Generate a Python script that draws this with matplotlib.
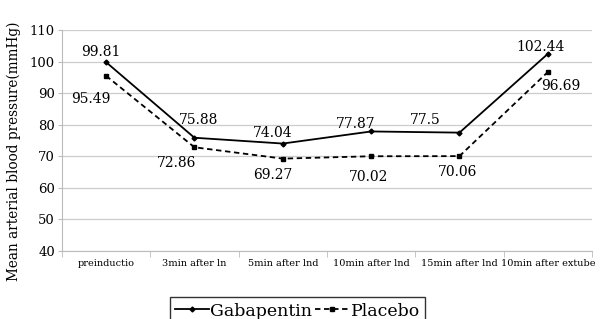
import matplotlib
matplotlib.use("Agg")
import matplotlib.pyplot as plt
from matplotlib.ticker import FixedLocator

plt.rcParams.update({
    "font.family": ["DejaVu Serif"],
    "figure.facecolor": "white", "savefig.facecolor": "white",
})

categories = ["preinductio", "3min after ln", "5min after lnd",
              "10min after lnd", "15min after lnd", "10min after extube"]
gabapentin = [99.81, 75.88, 74.04, 77.87, 77.5, 102.44]
placebo = [95.49, 72.86, 69.27, 70.02, 70.06, 96.69]

# label offsets in pixels (dx, dy), dy positive = up
gaba_off = [(-5, 10), (4, 18), (-10, 11), (-15, 7), (-34, 13), (-7, 7)]
plac_off = [(-15, -23), (-18, -16), (-10, -16), (-3, -21), (-2, -16), (13, -14)]

fig = plt.figure(figsize=(6.01, 3.19), dpi=100)
ax = fig.add_axes([0.103, 0.213, 0.882, 0.693])

x = list(range(len(categories)))
ax.plot(x, gabapentin, color="black", lw=1.3, ls="-", marker="D", ms=2.5,
        label="Gabapentin", zorder=3)
ax.plot(x, placebo, color="black", lw=1.3, ls=(0, (3, 2)), marker="s", ms=3,
        label="Placebo", zorder=3)

px = 72 / 100
for xi, v, (dx, dy) in zip(x, gabapentin, gaba_off):
    ax.annotate(f"{v:g}", (xi, v), xytext=(dx * px, dy * px), textcoords="offset points",
                ha="center", va="center", fontsize=10)
for xi, v, (dx, dy) in zip(x, placebo, plac_off):
    ax.annotate(f"{v:.2f}", (xi, v), xytext=(dx * px, dy * px), textcoords="offset points",
                ha="center", va="center", fontsize=10)

ax.set_xlim(-0.5, len(categories) - 0.5)
ax.set_ylim(40, 110)
ax.set_yticks(range(40, 111, 10))
ax.set_xticks(x)
ax.set_xticklabels(categories, fontsize=7)
ax.xaxis.set_minor_locator(FixedLocator([i - 0.5 for i in range(len(categories) + 1)]))
ax.tick_params(axis="x", which="major", length=0, pad=6)
ax.tick_params(axis="x", which="minor", length=4, color="#bbbbbb")
ax.tick_params(axis="y", labelsize=9.5, length=3, color="#bbbbbb", pad=2)

ax.grid(axis="y", color="#cccccc", lw=0.9)
ax.set_axisbelow(True)
for s in ["top", "right"]:
    ax.spines[s].set_visible(False)
for s in ["left", "bottom"]:
    ax.spines[s].set_color("#bbbbbb")

ax.set_ylabel("Mean arterial blood pressure(mmHg)", fontsize=9.8)
ax.yaxis.set_label_coords(-0.078, 0.45)

leg = ax.legend(loc="upper center", bbox_to_anchor=(0.444, -0.17), ncol=2,
                fontsize=12.5, frameon=True, fancybox=False, edgecolor="black",
                handlelength=2.0, handletextpad=0.05, columnspacing=0.15,
                borderpad=0.3)
leg.get_frame().set_linewidth(1.0)

fig.savefig("out.png", dpi=100)
